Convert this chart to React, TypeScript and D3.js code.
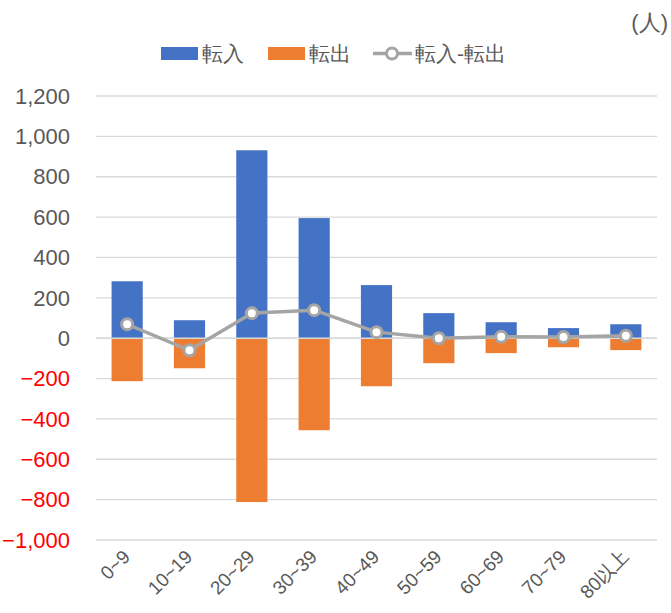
import React from "react";
import * as d3 from "d3";

const categories = ["0~9", "10~19", "20~29", "30~39", "40~49", "50~59", "60~69", "70~79", "80以上"];
const inflow = [282, 89, 931, 595, 263, 124, 79, 50, 69];
const outflow = [-213, -149, -812, -456, -238, -124, -74, -45, -59];
const net = [69, -60, 124, 139, 30, 0, 7, 6, 12];
const yTicks = [1200, 1000, 800, 600, 400, 200, 0, -200, -400, -600, -800, -1000];

const W = 671, H = 613;
const left = 96, right = 657, top = 96, bottom = 540;
const FONT = "'Liberation Sans', Arial, sans-serif";

export default function App() {
  const x = d3.scaleBand<string>().domain(categories).range([left, right]).paddingInner(0.5).paddingOuter(0.25);
  const y = d3.scaleLinear().domain([-1000, 1200]).range([bottom, top]);
  const fmt = d3.format(",");
  const line = d3.line<number>()
    .x((_, i) => (x(categories[i]) as number) + x.bandwidth() / 2)
    .y((d) => y(d));
  return (
    <svg width={W} height={H} style={{ display: "block", position: "absolute", left: 0, top: 0 }} fontFamily={FONT}>
      <rect width={W} height={H} fill="#fff" />
      {yTicks.map((t) => (
        <g key={t}>
          <line x1={left} x2={right} y1={y(t)} y2={y(t)} stroke="#D9D9D9" strokeWidth={1.3} />
          <text x={70} y={y(t)} dy="0.35em" textAnchor="end" fontSize={22} fill={t < 0 ? "#FF0000" : "#595959"}>
            {fmt(t)}
          </text>
        </g>
      ))}
      {categories.map((c, i) => (
        <g key={c}>
          <rect x={x(c)} width={x.bandwidth()} y={y(inflow[i])} height={y(0) - y(inflow[i])} fill="#4472C4" />
          <rect x={x(c)} width={x.bandwidth()} y={y(0)} height={y(outflow[i]) - y(0)} fill="#ED7D31" />
        </g>
      ))}
      <line x1={left} x2={right} y1={y(0)} y2={y(0)} stroke="#D9D9D9" strokeWidth={1.5} />
      <path d={line(net) || ""} fill="none" stroke="#A5A5A5" strokeWidth={3.5} strokeLinejoin="round" />
      {net.map((v, i) => (
        <circle key={i} cx={(x(categories[i]) as number) + x.bandwidth() / 2} cy={y(v)} r={5.5} fill="#fff" stroke="#A5A5A5" strokeWidth={3} />
      ))}
      {categories.map((c) => {
        const cx = (x(c) as number) + x.bandwidth() / 2 + 4;
        return (
          <text key={c} transform={`translate(${cx},${558}) rotate(-45)`} textAnchor="end" fontSize={19} fill="#595959">
            {c}
          </text>
        );
      })}
      {/* legend */}
      <rect x={161} y={47} width={37} height={13} fill="#4472C4" />
      <text x={202} y={54} dy="0.35em" fontSize={21} fill="#595959">転入</text>
      <rect x={268} y={47} width={37} height={13} fill="#ED7D31" />
      <text x={309} y={54} dy="0.35em" fontSize={21} fill="#595959">転出</text>
      <line x1={373} x2={412} y1={53.5} y2={53.5} stroke="#A5A5A5" strokeWidth={3.5} />
      <circle cx={392} cy={53.5} r={5.5} fill="#fff" stroke="#A5A5A5" strokeWidth={3} />
      <text x={415} y={54} dy="0.35em" fontSize={21} fill="#595959">転入-転出</text>
      <text x={668} y={22} dy="0.35em" textAnchor="end" fontSize={22} fill="#595959">(人)</text>
    </svg>
  );
}
